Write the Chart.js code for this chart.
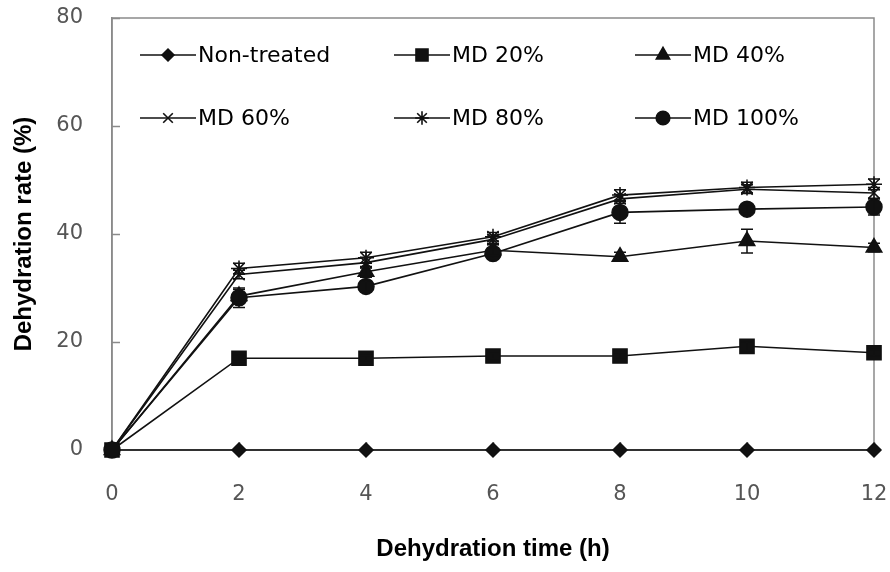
<!DOCTYPE html>
<html>
<head>
<meta charset="utf-8">
<script src="https://cdn.jsdelivr.net/npm/chart.js@4.4.1/dist/chart.umd.min.js"></script>
<style>
  html, body { margin: 0; padding: 0; background: #fff; }
  #wrap { width: 890px; height: 572px; }
</style>
</head>
<body>
<div id="wrap"><canvas id="chart" width="890" height="572"></canvas></div>
<script>
// dehydration time (h)
const hours = [0, 2, 4, 6, 8, 10, 12];
const seriesNames = ["Non-treated", "MD 20%", "MD 40%", "MD 60%", "MD 80%", "MD 100%"];

// dehydration rate (%)
const nonTreated = [0, 0, 0, 0, 0, 0, 0];
const md20 = [0, 17.0, 17.0, 17.4, 17.4, 19.2, 18.0];
const md40 = [0, 28.5, 33.0, 37.0, 35.8, 38.7, 37.5];
const md60 = [0, 32.5, 34.7, 39.0, 46.5, 48.3, 47.6];
const md80 = [0, 33.6, 35.6, 39.5, 47.2, 48.6, 49.2];
const md100 = [0, 28.2, 30.3, 36.4, 44.0, 44.6, 45.0];

// standard deviations (error bars)
const errNonTreated = [0, 0, 0, 0, 0, 0, 0];
const errMd20 = [0, 0.6, 0.5, 0.5, 0.6, 0.8, 0.6];
const errMd40 = [0, 1.2, 1.0, 1.0, 0.8, 2.2, 0.8];
const errMd60 = [0, 0.8, 1.0, 0.8, 0.8, 0.8, 1.0];
const errMd80 = [0, 1.0, 1.0, 0.8, 1.0, 1.0, 1.0];
const errMd100 = [0, 1.8, 1.0, 1.0, 2.0, 0.8, 1.5];

const seriesValues = [nonTreated, md20, md40, md60, md80, md100];
const seriesErrors = [errNonTreated, errMd20, errMd40, errMd60, errMd80, errMd100];
const markers = ["rectRot", "rect", "triangle", "crossRot", "star", "circle"];
const markerSize = [7, 10, 9, 8, 8, 8];

const axisGray = "#8a8a8a";
const lineColor = "#111";

const datasets = seriesNames.map((name, i) => ({
  label: name,
  data: hours.map((h, j) => ({ x: h, y: seriesValues[i][j] })),
  borderColor: lineColor,
  backgroundColor: lineColor,
  borderWidth: 1.6,
  pointStyle: markers[i],
  pointRadius: markerSize[i],
  pointBackgroundColor: lineColor,
  pointBorderColor: lineColor,
  pointBorderWidth: 1.5,
  tension: 0,
  clip: false,
  errors: seriesErrors[i],
})).reverse();

// plot frame plus inward tick marks
const framePlugin = {
  id: "frame",
  beforeDatasetsDraw(chart) {
    const { ctx, chartArea: a, scales } = chart;
    ctx.save();
    ctx.strokeStyle = axisGray;
    ctx.lineWidth = 1.5;
    ctx.strokeRect(a.left, a.top, a.right - a.left, a.bottom - a.top);
    ctx.beginPath();
    scales.y.ticks.forEach(t => {
      const y = Math.round(scales.y.getPixelForValue(t.value)) + 0.5;
      ctx.moveTo(a.left, y);
      ctx.lineTo(a.left + 8, y);
    });
    scales.x.ticks.forEach(t => {
      const x = Math.round(scales.x.getPixelForValue(t.value)) + 0.5;
      ctx.moveTo(x, a.bottom);
      ctx.lineTo(x, a.bottom - 8);
    });
    ctx.stroke();
    ctx.restore();
  }
};

// vertical error bars with caps
const errorBarPlugin = {
  id: "errorBars",
  afterDatasetsDraw(chart) {
    const { ctx, scales } = chart;
    ctx.save();
    ctx.strokeStyle = lineColor;
    ctx.lineWidth = 1.5;
    chart.data.datasets.forEach((ds, i) => {
      const meta = chart.getDatasetMeta(i);
      meta.data.forEach((pt, j) => {
        const e = ds.errors[j];
        if (!e) return;
        const v = ds.data[j].y;
        const top = scales.y.getPixelForValue(v + e);
        const bot = scales.y.getPixelForValue(v - e);
        ctx.beginPath();
        ctx.moveTo(pt.x, top);
        ctx.lineTo(pt.x, bot);
        ctx.moveTo(pt.x - 6, top);
        ctx.lineTo(pt.x + 6, top);
        ctx.moveTo(pt.x - 6, bot);
        ctx.lineTo(pt.x + 6, bot);
        ctx.stroke();
      });
    });
    ctx.restore();
  }
};

// legend drawn inside the plot, 3 columns x 2 rows
const legendCols = [198, 452, 693];
const legendRows = [55, 118];
const insideLegendPlugin = {
  id: "insideLegend",
  afterDraw(chart) {
    const { ctx } = chart;
    ctx.save();
    ctx.font = "22px 'DejaVu Sans', sans-serif";
    ctx.textBaseline = "middle";
    ctx.textAlign = "left";
    seriesNames.forEach((name, i) => {
      const tx = legendCols[i % 3];
      const y = legendRows[Math.floor(i / 3)];
      const x0 = tx - 58, x1 = tx - 2, xm = (x0 + x1) / 2;
      ctx.strokeStyle = lineColor;
      ctx.fillStyle = lineColor;
      ctx.lineWidth = 1.6;
      ctx.beginPath();
      ctx.moveTo(x0, y);
      ctx.lineTo(x1, y);
      ctx.stroke();
      Chart.helpers.drawPoint(ctx, {
        pointStyle: markers[i],
        radius: markerSize[i] * 0.85,
        rotation: 0,
        borderWidth: 1.5
      }, xm, y);
      ctx.fillStyle = "#000";
      ctx.fillText(name, tx, y + 1);
    });
    ctx.restore();
  }
};

new Chart(document.getElementById("chart"), {
  type: "line",
  data: { datasets },
  plugins: [framePlugin, errorBarPlugin, insideLegendPlugin],
  options: {
    responsive: false,
    animation: false,
    layout: { autoPadding: false, padding: { top: 18, right: 16, left: 0, bottom: 0 } },
    plugins: { legend: { display: false }, tooltip: { enabled: false } },
    scales: {
      x: {
        type: "linear",
        min: 0,
        max: 12,
        afterFit(s) { s.height = 122; s.paddingLeft = 0; s.paddingRight = 0; },
        ticks: { stepSize: 2, color: "#555", padding: 32, font: { family: "'DejaVu Sans', sans-serif", size: 21 } },
        grid: { display: false, drawTicks: false },
        border: { display: true, color: axisGray, width: 1.5 },
        title: {
          display: true,
          text: "Dehydration time (h)",
          color: "#000",
          font: { family: "'Liberation Sans', Arial, sans-serif", size: 24, weight: "bold" },
          padding: { top: 0, bottom: 8 }
        }
      },
      y: {
        min: 0,
        max: 80,
        afterFit(s) { s.width = 112; s.paddingTop = 0; s.paddingBottom = 0; },
        ticks: { stepSize: 20, color: "#555", padding: 29, font: { family: "'DejaVu Sans', sans-serif", size: 21 } },
        grid: { display: false, drawTicks: false },
        border: { display: true, color: axisGray, width: 1.5 },
        title: {
          display: true,
          text: "Dehydration rate (%)",
          color: "#000",
          font: { family: "'Liberation Sans', Arial, sans-serif", size: 24, weight: "bold" },
          padding: { top: 10, bottom: 0 }
        }
      }
    }
  }
});
</script>
</body>
</html>
